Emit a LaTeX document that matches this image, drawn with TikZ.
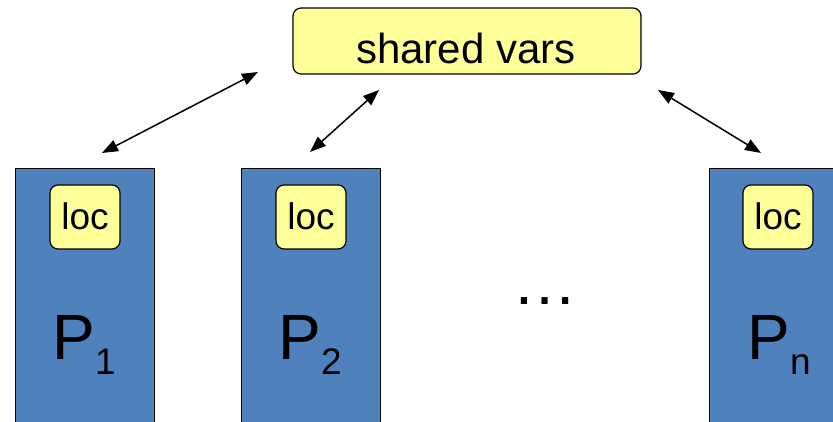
\documentclass[tikz,border=0pt]{standalone}
\usepackage{fontspec}
\setmainfont{Liberation Sans}
\usetikzlibrary{arrows.meta}
\definecolor{procblue}{HTML}{4F81BD}
\definecolor{memyellow}{HTML}{FFFF99}
\newcommand{\procname}[1]{{\fontsize{64}{64}\selectfont P}{\fontsize{37}{37}\selectfont\raisebox{-15pt}{#1}}}
\begin{document}
\begin{tikzpicture}[x=1pt,y=-1pt,
  proc/.style={draw=black, line width=1.2pt, fill=procblue, minimum width=139pt, minimum height=280pt, anchor=north west, inner sep=0pt},
  mem/.style={draw=black, line width=1.2pt, fill=memyellow, rounded corners=8pt, inner sep=0pt},
  locbox/.style={mem, minimum width=70pt, minimum height=64pt},
  loctext/.style={anchor=base, inner sep=0pt, font=\fontsize{37}{37}\selectfont},
  ptext/.style={anchor=base, inner sep=0pt},
  link/.style={line width=1.5pt, {Triangle[length=16pt,width=12pt]}-{Triangle[length=16pt,width=12pt]}}]
\useasboundingbox (0,0) rectangle (833,422);
\clip (0,0) rectangle (833,422);
% processes
\node[proc] (p1) at (15,168) {};
\node[proc] (p2) at (241,168) {};
\node[proc] (pn) at (709,168) {};
% local memories
\node[locbox] (l1) at (85,217) {};
\node[locbox] (l2) at (311,217) {};
\node[locbox] (ln) at (778,217) {};
\node[loctext] (t1) at (85,230) {loc};
\node[loctext] (t2) at (311,230) {loc};
\node[loctext] (tn) at (778,230) {loc};
% process names
\node[ptext] (n1) at (84,359) {\procname{1}};
\node[ptext] (n2) at (310,359) {\procname{2}};
\node[ptext] (nn) at (779,359) {\procname{n}};
% shared memory
\node[mem, minimum width=348pt, minimum height=66pt] (sh) at (467,41) {};
\node[anchor=base, inner sep=0pt, font=\fontsize{42}{42}\selectfont] (sht) at (466,64) {shared vars};
% dots
\node[anchor=base, inner sep=0pt, font=\fontsize{65}{65}\selectfont] (dots) at (545,305) {…};
% links
\coordinate (a1s) at (102,153);
\coordinate (a1e) at (258,72);
\coordinate (a2s) at (310,152);
\coordinate (a2e) at (379,90);
\coordinate (a3s) at (658,90);
\coordinate (a3e) at (761,153);
\draw[link] (a1s) -- (a1e);
\draw[link] (a2s) -- (a2e);
\draw[link] (a3s) -- (a3e);
\end{tikzpicture}
\end{document}
